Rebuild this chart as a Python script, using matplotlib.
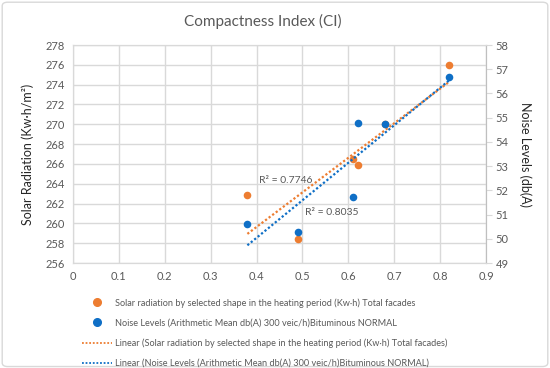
import numpy as np
import matplotlib
matplotlib.use("Agg")
import matplotlib.pyplot as plt
from matplotlib.lines import Line2D
from matplotlib.patches import FancyBboxPatch

plt.rcParams['font.family'] = ['Lato', 'DejaVu Sans']

# data
ci_solar = [0.38, 0.49, 0.61, 0.62, 0.68, 0.82]
solar = [262.9, 258.4, 266.5, 265.9, 270.0, 276.0]
ci_noise = [0.38, 0.49, 0.61, 0.62, 0.68, 0.82]
noise = [50.63, 50.27, 51.72, 54.79, 54.74, 56.68]

lab_solar = "Solar radiation by selected shape in the heating period (Kw·h) Total facades"
lab_noise = "Noise Levels (Arithmetic Mean db(A) 300 veic/h)Bituminous NORMAL"

orange = "#ED7D31"
blue = "#0F6FC6"
grey = "#595959"
gridc = "#D9D9D9"

fig = plt.figure(figsize=(5.5, 3.68), dpi=100)
fig.patches.append(FancyBboxPatch((0.004, 0.004), 0.992, 0.99, boxstyle="round,pad=0,rounding_size=0.01",
                                  transform=fig.transFigure, fill=False, ec="#D9D9D9", lw=1))

ax = fig.add_axes([0.1327, 0.2853, 0.751, 0.5924])
ax2 = ax.twinx()

# trendlines (least squares from the points)
xs = np.array([min(ci_solar), max(ci_solar)])
p1 = np.polyfit(ci_solar, solar, 1)
p2 = np.polyfit(ci_noise, noise, 1)

ax.scatter(ci_solar, solar, s=30, color=orange, zorder=3, linewidths=0)
ax.plot(xs, np.polyval(p1, xs), color=orange, ls=(0, (1, 1)), lw=1.6, zorder=4)
ax2.scatter(ci_noise, noise, s=30, color=blue, zorder=3, linewidths=0)
ax2.plot(xs, np.polyval(p2, xs), color=blue, ls=(0, (1, 1)), lw=1.6, zorder=4)

ax.set_xlim(0, 0.9)
ax.set_ylim(256, 278)
ax2.set_ylim(49, 58)
ax.set_xticks(np.arange(0, 0.91, 0.1))
ax.set_xticklabels(["0", "0.1", "0.2", "0.3", "0.4", "0.5", "0.6", "0.7", "0.8", "0.9"])
ax.set_yticks(np.arange(256, 279, 2))
ax2.set_yticks(np.arange(49, 59, 1))
ax.grid(True, color=gridc, lw=1)
ax.set_axisbelow(True)

for a in (ax, ax2):
    for s in a.spines.values():
        s.set_color(gridc)
    a.tick_params(labelsize=8, labelcolor=grey, colors=gridc)
ax.tick_params(axis='both', length=0, pad=6)
ax2.tick_params(axis='y', length=4, pad=3)
ax2.spines['right'].set_color("#BFBFBF")

ax.set_ylabel("Solar Radiation (Kw·h/m²)", fontsize=9, color="#262626", labelpad=8)
ax2.set_ylabel("Noise Levels (db(A)", fontsize=9, color="#262626", rotation=270, labelpad=16)

ax.text(0.405, 264.3, "R² = 0.7746", fontsize=7.5, color=grey, va='center')
ax.text(0.506, 261.1, "R² = 0.8035", fontsize=7.5, color=grey, va='center')

fig.text(0.477, 0.943, "Compactness Index (CI)", fontsize=11, color=grey, ha='center', va='center')

handles = [
    Line2D([], [], ls='none', marker='o', ms=5.5, mfc=orange, mec=orange),
    Line2D([], [], ls='none', marker='o', ms=5.5, mfc=blue, mec=blue),
    Line2D([], [], color=orange, ls=(0, (1, 1)), lw=1.3),
    Line2D([], [], color=blue, ls=(0, (1, 1)), lw=1.3),
]
labels = [lab_solar, lab_noise, "Linear (" + lab_solar + ")", "Linear (" + lab_noise + ")"]
fig.legend(handles, labels, loc='upper left', bbox_to_anchor=(0.149, 0.19), frameon=False,
           fontsize=6.6, labelcolor=grey, handlelength=3.27, handletextpad=0.33,
           labelspacing=1.19, borderpad=0, borderaxespad=0)

fig.savefig("out.png", dpi=100)
